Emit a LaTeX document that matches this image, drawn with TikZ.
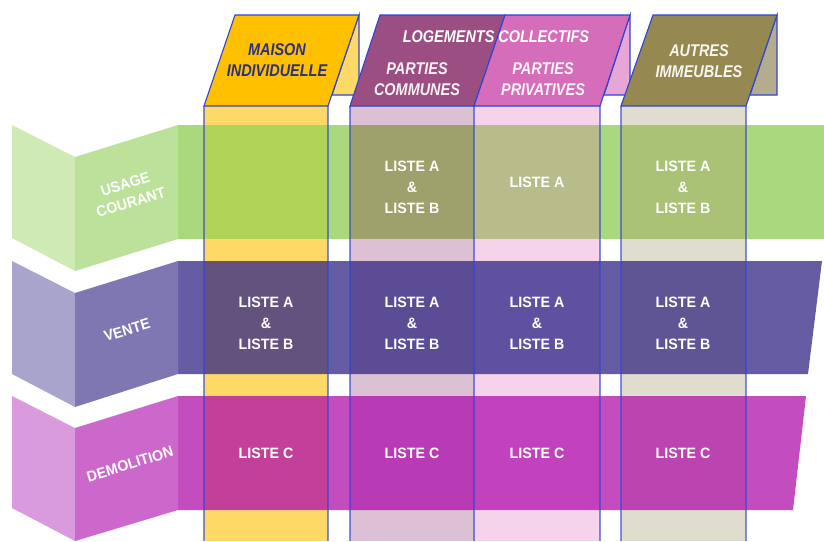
\documentclass[tikz,border=0pt]{standalone}
\usepackage{fontspec}
\setmainfont{Liberation Sans}
\newfontfamily\cellfont[FakeStretch=0.95]{Liberation Sans}
\newfontfamily\headfont[FakeStretch=0.85]{Liberation Sans}
\definecolor{bord}{HTML}{2F45D0}
\definecolor{pYel}{HTML}{FFD966}
\definecolor{pMau}{HTML}{DBC1D3}
\definecolor{pPnk}{HTML}{F5D4EB}
\definecolor{pBei}{HTML}{E0DCCE}
\definecolor{hYel}{HTML}{FFC000}
\definecolor{hMau}{HTML}{9A4E82}
\definecolor{hPnk}{HTML}{D66DBA}
\definecolor{hBei}{HTML}{958850}
\definecolor{sPnk}{HTML}{E6A6D6}
\definecolor{sBei}{HTML}{B3AD8E}
\definecolor{gBand}{HTML}{A9D97C}
\definecolor{gYel}{HTML}{AED356}
\definecolor{gMau}{HTML}{9EA16C}
\definecolor{gPnk}{HTML}{B8BC8A}
\definecolor{gBei}{HTML}{A9C276}
\definecolor{vBand}{HTML}{665CA4}
\definecolor{vYel}{HTML}{64527E}
\definecolor{vMau}{HTML}{5B4C95}
\definecolor{vPnk}{HTML}{6051A0}
\definecolor{vBei}{HTML}{5F5595}
\definecolor{dBand}{HTML}{C34DBF}
\definecolor{dYel}{HTML}{C2409A}
\definecolor{dMau}{HTML}{B83AB4}
\definecolor{dPnk}{HTML}{C242BE}
\definecolor{dBei}{HTML}{BB44B0}
\definecolor{gL}{HTML}{CFEAB5}
\definecolor{gR}{HTML}{BCE19A}
\definecolor{vL}{HTML}{A8A4CB}
\definecolor{vR}{HTML}{7F77B1}
\definecolor{dL}{HTML}{DA9BDE}
\definecolor{dR}{HTML}{CC67CC}
\definecolor{navy}{HTML}{2B2F80}
\begin{document}
\begin{tikzpicture}[x=1pt,y=-1pt,
  celltext/.style={text=white,align=center,font=\cellfont\bfseries\fontsize{15}{21}\selectfont,inner sep=0pt},
  rowtext/.style={text=white,align=center,font=\cellfont\bfseries\fontsize{15}{19}\selectfont,inner sep=0pt,rotate=17},
  headtext/.style={align=center,font=\headfont\bfseries\itshape\fontsize{17}{20.5}\selectfont,inner sep=0pt},
  edge/.style={draw=bord,line width=1.1pt},
  faint/.style={draw=bord,line width=1.1pt,opacity=0.6}]
\useasboundingbox (0,0) rectangle (824,541);
% column bodies
\fill[pYel] (204,106) rectangle (328,541);
\fill[pMau] (350,106) rectangle (474,541);
\fill[pPnk] (474,106) rectangle (600,541);
\fill[pBei] (621,106) rectangle (746,541);
% header blocks
\filldraw[fill=pYel,edge] (359,15) -- (359,95) -- (332,95) -- cycle;
\filldraw[fill=sPnk,edge] (630,15) -- (630,95) -- (604,95) -- cycle;
\filldraw[fill=sBei,edge] (777,15) -- (777,95) -- (750,95) -- cycle;
\filldraw[fill=hYel,edge] (235,15) -- (359,15) -- (328,106) -- (204,106) -- cycle;
\filldraw[fill=hMau,edge] (380,15) -- (505,15) -- (474,106) -- (350,106) -- cycle;
\filldraw[fill=hPnk,edge] (505,15) -- (630,15) -- (600,106) -- (474,106) -- cycle;
\filldraw[fill=hBei,edge] (653,15) -- (777,15) -- (746,106) -- (621,106) -- cycle;
% row bands
\fill[gBand] (178,125) rectangle (824,239);
\fill[vBand] (178,261) -- (822,261) -- (808,374) -- (178,374) -- cycle;
\fill[dBand] (178,396) -- (806,396) -- (793,510) -- (178,510) -- cycle;
% overlaps
\fill[gYel] (204,125) rectangle (328,239);
\fill[gMau] (350,125) rectangle (474,239);
\fill[gPnk] (474,125) rectangle (600,239);
\fill[gBei] (621,125) rectangle (746,239);
\fill[vYel] (204,261) rectangle (328,374);
\fill[vMau] (350,261) rectangle (474,374);
\fill[vPnk] (474,261) rectangle (600,374);
\fill[vBei] (621,261) rectangle (746,374);
\fill[dYel] (204,396) rectangle (328,510);
\fill[dMau] (350,396) rectangle (474,510);
\fill[dPnk] (474,396) rectangle (600,510);
\fill[dBei] (621,396) rectangle (746,510);
% column borders
\foreach \cx in {204,328,350,474,600,621,746} {\draw[faint] (\cx,106) -- (\cx,541);}
% folded row labels
\fill[gL] (12,125) -- (75,157) -- (75,271) -- (12,238) -- cycle;
\fill[gR] (75,157) -- (178,125) -- (178,239) -- (75,271) -- cycle;
\fill[vL] (12,261) -- (75,293) -- (75,407) -- (12,374) -- cycle;
\fill[vR] (75,293) -- (178,261) -- (178,374) -- (75,407) -- cycle;
\fill[dL] (12,396) -- (75,428) -- (75,541) -- (12,508) -- cycle;
\fill[dR] (75,428) -- (178,396) -- (178,510) -- (75,541) -- cycle;
\node[rowtext] (rUsage) at (128,193) {USAGE\\COURANT};
\node[rowtext] (rVente) at (127,330) {VENTE};
\node[rowtext] (rDemol) at (130,464) {DEMOLITION};
% headers
\node[headtext,text=navy] (hMaison) at (277,60) {MAISON\\INDIVIDUELLE};
\node[headtext,text=white] (hLog) at (496,37) {LOGEMENTS COLLECTIFS};
\node[headtext,text=white!92!hMau] (hComm) at (417,79) {PARTIES\\COMMUNES};
\node[headtext,text=white!92!hPnk] (hPriv) at (543,79) {PARTIES\\PRIVATIVES};
\node[headtext,text=white!92!hBei] (hAutres) at (699,61) {AUTRES\\IMMEUBLES};
% cell texts
\node[celltext] (u2) at (412,187) {LISTE A\\\&\\LISTE B};
\node[celltext] (u3) at (537,182) {LISTE A};
\node[celltext] (u4) at (683,187) {LISTE A\\\&\\LISTE B};
\node[celltext] (v1) at (266,323) {LISTE A\\\&\\LISTE B};
\node[celltext] (v2) at (412,323) {LISTE A\\\&\\LISTE B};
\node[celltext] (v3) at (537,323) {LISTE A\\\&\\LISTE B};
\node[celltext] (v4) at (683,323) {LISTE A\\\&\\LISTE B};
\node[celltext] (d1) at (266,453) {LISTE C};
\node[celltext] (d2) at (412,453) {LISTE C};
\node[celltext] (d3) at (537,453) {LISTE C};
\node[celltext] (d4) at (683,453) {LISTE C};
\end{tikzpicture}
\end{document}
